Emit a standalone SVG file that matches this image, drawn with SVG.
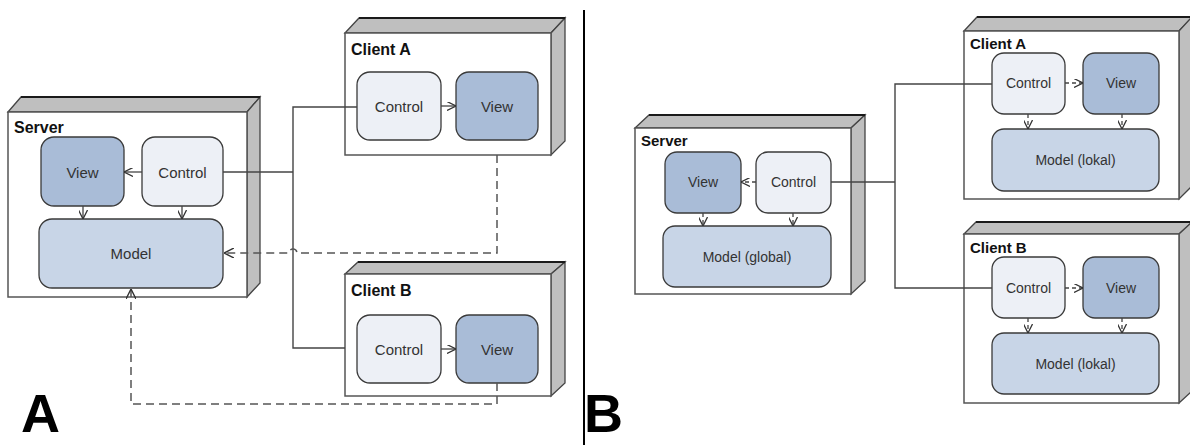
<svg xmlns="http://www.w3.org/2000/svg" width="1190" height="445" viewBox="0 0 1190 445">
<style>
.front{fill:#fff;stroke:#555;stroke-width:1.5}
.depth{fill:#bfbfbf;stroke:#444;stroke-width:1.3}
.topedge{fill:none;stroke:#1a1a1a;stroke-width:2}
.view{fill:#a9bcd7;stroke:#3a3a3a;stroke-width:1.3}
.ctrl{fill:#edf0f6;stroke:#3a3a3a;stroke-width:1.3}
.model{fill:#c8d5e7;stroke:#3a3a3a;stroke-width:1.3}
.t{font-family:"Liberation Sans",Arial,sans-serif;fill:#333;text-anchor:middle;dominant-baseline:central}
.t15{font-size:15px}
.t14{font-size:14px}
.lbl{font-family:"Liberation Sans",Arial,sans-serif;font-weight:bold;fill:#111}
.conn{fill:none;stroke:#444;stroke-width:1.4}
.dash{fill:none;stroke:#555;stroke-width:1.5;stroke-dasharray:8 5}
.arr{fill:none;stroke:#444;stroke-width:1.3}
.big{font-family:"Liberation Sans",Arial,sans-serif;font-weight:bold;font-size:54px;fill:#000}
</style>
<defs>
<marker id="open" viewBox="0 0 10 10" refX="10" refY="5" markerWidth="10" markerHeight="10" markerUnits="userSpaceOnUse" orient="auto">
<path d="M0,0 L10,5 L0,10" fill="none" stroke="#333" stroke-width="1.4"/>
</marker>
<marker id="openS" viewBox="0 0 10 10" refX="10" refY="5" markerWidth="9" markerHeight="9" markerUnits="userSpaceOnUse" orient="auto">
<path d="M0,0 L10,5 L0,10" fill="none" stroke="#333" stroke-width="1.4"/>
</marker>
</defs>
<rect width="1190" height="445" fill="#fff"/>

<!-- Panel A -->
<g id="serverA">
<polygon class="depth" points="8,112 21,97 260,97 247,112"/>
<polygon class="depth" points="247,112 260,97 260,283 247,297"/>
<line class="topedge" x1="21" y1="97" x2="260" y2="97"/>
<rect class="front" x="8" y="112" width="239" height="185"/>
<text class="lbl" x="14" y="133" font-size="16">Server</text>
<g id="serverA-view"><rect class="view" x="41" y="137" width="83" height="69" rx="13"/><text class="t t15" x="82.5" y="172">View</text></g>
<g id="serverA-control"><rect class="ctrl" x="142" y="137" width="81" height="69" rx="13"/><text class="t t15" x="182.5" y="172">Control</text></g>
<g id="serverA-model"><rect class="model" x="39" y="219" width="184" height="69" rx="13"/><text class="t t15" x="131" y="253">Model</text></g>
<line class="arr" x1="142" y1="172" x2="124" y2="172" marker-end="url(#openS)"/>
<line class="arr" x1="83" y1="206" x2="83" y2="219" marker-end="url(#openS)"/>
<line class="arr" x1="182" y1="206" x2="182" y2="219" marker-end="url(#openS)"/>
</g>

<g id="clientA-left">
<polygon class="depth" points="345,33 359,18 565,18 551,33"/>
<polygon class="depth" points="551,33 565,18 565,141 551,155"/>
<line class="topedge" x1="359" y1="18" x2="565" y2="18"/>
<rect class="front" x="345" y="33" width="206" height="122"/>
<text class="lbl" x="351" y="55" font-size="16">Client A</text>
<g id="clientA-left-control"><rect class="ctrl" x="357" y="72" width="84" height="68" rx="13"/><text class="t t15" x="399" y="106">Control</text></g>
<g id="clientA-left-view"><rect class="view" x="456" y="72" width="82" height="68" rx="13"/><text class="t t15" x="497" y="106">View</text></g>
<line class="arr" x1="441" y1="106" x2="456" y2="106" marker-end="url(#openS)"/>
</g>

<g id="clientB-left">
<polygon class="depth" points="345,274 358,262 565,262 551,274"/>
<polygon class="depth" points="551,274 565,262 565,383 551,396"/>
<line class="topedge" x1="358" y1="262" x2="565" y2="262"/>
<rect class="front" x="345" y="274" width="206" height="122"/>
<text class="lbl" x="351" y="296" font-size="16">Client B</text>
<g id="clientB-left-control"><rect class="ctrl" x="357" y="315" width="84" height="68" rx="13"/><text class="t t15" x="399" y="349">Control</text></g>
<g id="clientB-left-view"><rect class="view" x="456" y="315" width="82" height="68" rx="13"/><text class="t t15" x="497" y="349">View</text></g>
<line class="arr" x1="441" y1="349" x2="456" y2="349" marker-end="url(#openS)"/>
</g>

<!-- Panel B -->
<g id="serverB">
<polygon class="depth" points="635,128 649,115 865,115 851,128"/>
<polygon class="depth" points="851,128 865,115 865,281 851,294"/>
<line class="topedge" x1="649" y1="115" x2="865" y2="115"/>
<rect class="front" x="635" y="128" width="216" height="166"/>
<text class="lbl" x="641" y="146" font-size="15">Server</text>
<g id="serverB-view"><rect class="view" x="665" y="152" width="76" height="61" rx="12"/><text class="t t14" x="703" y="182">View</text></g>
<g id="serverB-control"><rect class="ctrl" x="756" y="152" width="75" height="61" rx="12"/><text class="t t14" x="793.5" y="182">Control</text></g>
<g id="serverB-model"><rect class="model" x="663" y="226" width="168" height="61" rx="12"/><text class="t t14" x="747" y="257">Model (global)</text></g>
<line class="arr" x1="756" y1="182" x2="741" y2="182" stroke-dasharray="4 3" marker-end="url(#openS)"/>
<line class="arr" x1="703" y1="213" x2="703" y2="226" stroke-dasharray="4 3" marker-end="url(#openS)"/>
<line class="arr" x1="793" y1="213" x2="793" y2="226" stroke-dasharray="4 3" marker-end="url(#openS)"/>
</g>

<g id="clientA-right">
<polygon class="depth" points="964,31 977,17 1192,17 1179,31"/>
<polygon class="depth" points="1179,31 1192,17 1192,186 1179,199"/>
<line class="topedge" x1="977" y1="17" x2="1192" y2="17"/>
<rect class="front" x="964" y="31" width="215" height="168"/>
<text class="lbl" x="970" y="49" font-size="15">Client A</text>
<g id="clientA-right-control"><rect class="ctrl" x="992" y="53" width="73" height="61" rx="12"/><text class="t t14" x="1028.5" y="83">Control</text></g>
<g id="clientA-right-view"><rect class="view" x="1083" y="53" width="76" height="61" rx="12"/><text class="t t14" x="1121" y="83">View</text></g>
<g id="clientA-right-model"><rect class="model" x="992" y="129" width="167" height="62" rx="12"/><text class="t t14" x="1075.5" y="160">Model (lokal)</text></g>
<line class="arr" x1="1065" y1="83" x2="1083" y2="83" stroke-dasharray="4 3" marker-end="url(#openS)"/>
<line class="arr" x1="1028" y1="114" x2="1028" y2="129" stroke-dasharray="4 3" marker-end="url(#openS)"/>
<line class="arr" x1="1122" y1="114" x2="1122" y2="129" stroke-dasharray="4 3" marker-end="url(#openS)"/>
</g>

<g id="clientB-right">
<polygon class="depth" points="964,234 976,222 1192,222 1179,234"/>
<polygon class="depth" points="1179,234 1192,222 1192,391 1179,403"/>
<line class="topedge" x1="976" y1="222" x2="1192" y2="222"/>
<rect class="front" x="964" y="234" width="215" height="169"/>
<text class="lbl" x="970" y="253" font-size="15">Client B</text>
<g id="clientB-right-control"><rect class="ctrl" x="992" y="257" width="73" height="61" rx="12"/><text class="t t14" x="1028.5" y="288">Control</text></g>
<g id="clientB-right-view"><rect class="view" x="1083" y="257" width="76" height="61" rx="12"/><text class="t t14" x="1121" y="288">View</text></g>
<g id="clientB-right-model"><rect class="model" x="992" y="333" width="167" height="61" rx="12"/><text class="t t14" x="1075.5" y="364">Model (lokal)</text></g>
<line class="arr" x1="1065" y1="288" x2="1083" y2="288" stroke-dasharray="4 3" marker-end="url(#openS)"/>
<line class="arr" x1="1028" y1="318" x2="1028" y2="333" stroke-dasharray="4 3" marker-end="url(#openS)"/>
<line class="arr" x1="1122" y1="318" x2="1122" y2="333" stroke-dasharray="4 3" marker-end="url(#openS)"/>
</g>

<g id="connectors">
<path class="conn" d="M223,172 L293,172"/>
<path class="conn" d="M357,107 L293,107 L293,348 L345,348"/>
<path class="dash" d="M497,155 L497,253 L297,253 A4,4 0 0 0 289,253 L224,253" marker-end="url(#open)"/>
<path class="dash" d="M497,383 L497,404 L131,404 L131,289" marker-end="url(#open)"/>
<path class="conn" d="M831,182 L895,182"/>
<path class="conn" d="M992,84 L895,84 L895,288 L992,288"/>
</g>

<line x1="584" y1="10" x2="584" y2="445" stroke="#000" stroke-width="2"/>
<text class="big" x="21" y="432">A</text>
<text class="big" x="584" y="432">B</text>
</svg>
